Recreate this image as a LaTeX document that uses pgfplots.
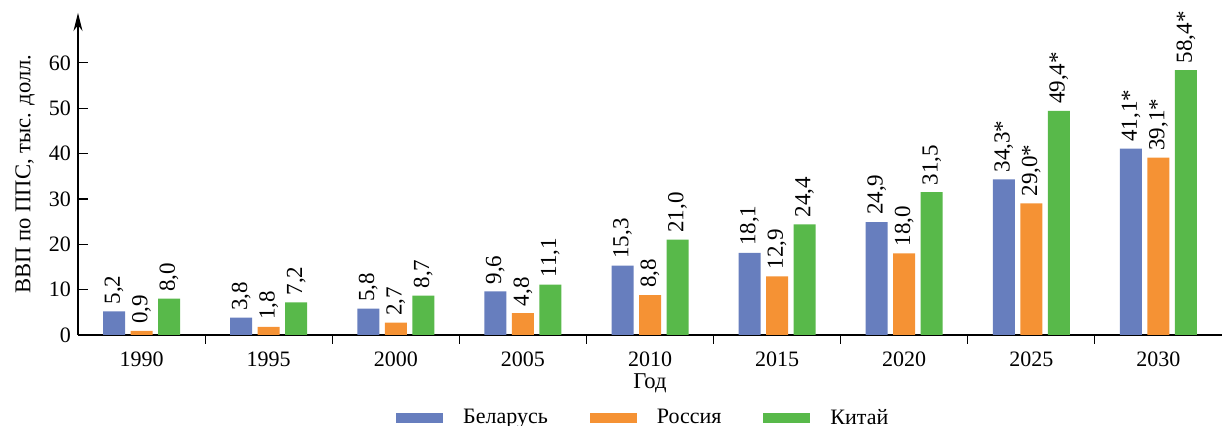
\documentclass[border=0pt]{standalone}
\usepackage{fontspec}
\setmainfont{Liberation Serif}
\usepackage{pgfplots}
\pgfplotsset{compat=1.18}
\usepackage{pgfplotstable}
\usetikzlibrary{arrows.meta,calc}

\definecolor{cB}{RGB}{103,126,190}
\definecolor{cR}{RGB}{245,146,52}
\definecolor{cC}{RGB}{88,185,74}

\pgfplotstableread{
x y lab
0 5.2 5,2
1 3.8 3,8
2 5.8 5,8
3 9.6 9,6
4 15.3 15,3
5 18.1 18,1
6 24.9 24,9
7 34.3 34,3*
8 41.1 41,1*
}\tblB
\pgfplotstableread{
x y lab
0 0.9 0,9
1 1.8 1,8
2 2.7 2,7
3 4.8 4,8
4 8.8 8,8
5 12.9 12,9
6 18.0 18,0
7 29.0 29,0*
8 39.1 39,1*
}\tblR
\pgfplotstableread{
x y lab
0 8.0 8,0
1 7.2 7,2
2 8.7 8,7
3 11.1 11,1
4 21.0 21,0
5 24.4 24,4
6 31.5 31,5
7 49.4 49,4*
8 58.4 58,4*
}\tblC

\begin{document}
\begin{tikzpicture}
\begin{axis}[
  name=ax,
  scale only axis,
  width=572pt, height=161pt,
  xmin=-0.5, xmax=8.5, ymin=0, ymax=71,
  axis x line=bottom, axis y line=left,
  x axis line style={-},
  y axis line style={-{Stealth[length=9pt,width=4.5pt]}},
  axis line style={line width=0.6pt},
  tick style={line width=0.6pt, black},
  tick align=inside,
  major tick length=5pt, minor tick length=4.5pt,
  ytick={0,10,...,60},
  xtick={0,1,2,3,4,5,6,7,8},
  xticklabels={1990,1995,2000,2005,2010,2015,2020,2025,2030},
  major x tick style={draw=none},
  minor xtick={0.5,1.5,2.5,3.5,4.5,5.5,6.5,7.5},
  minor x tick style={draw=black, line width=0.6pt},
  /pgf/number format/assume math mode=true,
  ticklabel style={font=\fontsize{11}{13}\selectfont},
  xlabel={Год},
  ylabel={ВВП по ППС, тыс. долл.},
  label style={font=\fontsize{11.3}{13}\selectfont},
  xlabel style={at={(axis description cs:0.5,-0.149)}, anchor=center},
  ylabel style={at={(axis description cs:-0.0463,0.5)}, anchor=center},
  ybar=2.75pt, bar width=11pt,
  nodes near coords,
  point meta=explicit symbolic,
  nodes near coords style={rotate=90, anchor=west, font=\fontsize{11.5}{13}\selectfont, black},
  legend columns=3,
  legend style={at={(0.495,-0.258)}, anchor=center, draw=none,
    font=\fontsize{11}{13}\selectfont,
    /tikz/every odd column/.append style={column sep=8pt},
    /tikz/every even column/.append style={column sep=19pt}},
]
\addplot[fill=cB, draw=none, legend image code/.code={\fill[cB] (0pt,-2.3pt) rectangle (23.5pt,2.3pt);}] table[x=x,y=y,meta=lab]{\tblB};
\addlegendentry{Беларусь}
\addplot[fill=cR, draw=none, legend image code/.code={\fill[cR] (0pt,-2.3pt) rectangle (23.5pt,2.3pt);}] table[x=x,y=y,meta=lab]{\tblR};
\addlegendentry{Россия}
\addplot[fill=cC, draw=none, legend image code/.code={\fill[cC] (0pt,-2.3pt) rectangle (23.5pt,2.3pt);}] table[x=x,y=y,meta=lab]{\tblC};
\addlegendentry{Китай}
\end{axis}
\pgfresetboundingbox
\path[use as bounding box] ($(ax.south west)+(-39pt,-45.5pt)$) rectangle ($(ax.north east)+(0pt,6.5pt)$);
\end{tikzpicture}
\end{document}
